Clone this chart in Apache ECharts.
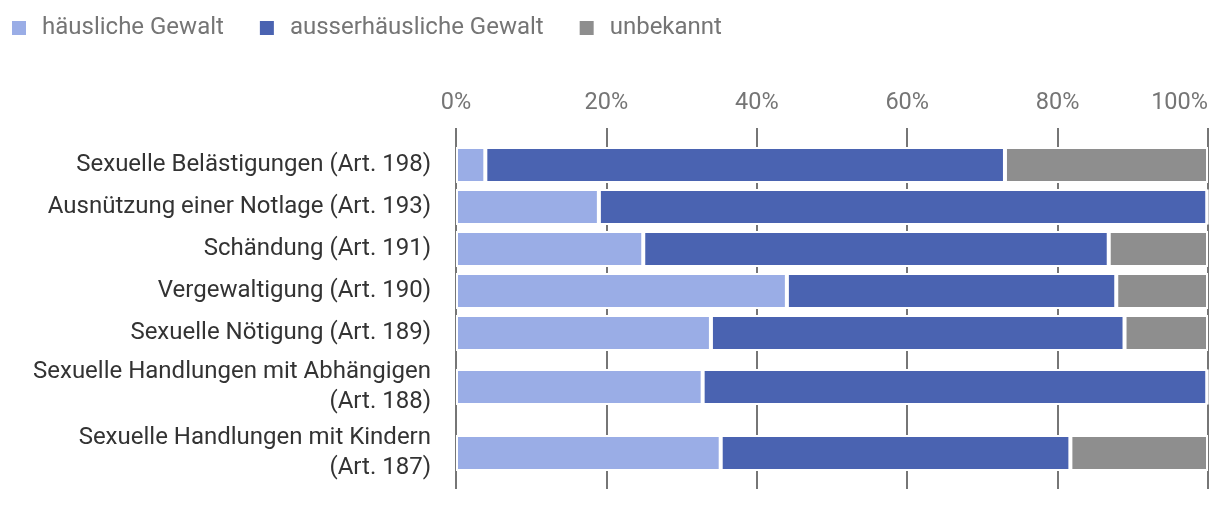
<!DOCTYPE html>
<html>
<head>
<meta charset="utf-8">
<script src="https://cdn.jsdelivr.net/npm/echarts@6/dist/echarts.min.js"></script>
<style>
html,body{margin:0;padding:0;background:#fff;}
#chart{width:1220px;height:512px;}
</style>
</head>
<body>
<div id="chart"></div>
<script>
// ---- data ----
const categories = [
  'Sexuelle Belästigungen (Art. 198)',
  'Ausnützung einer Notlage (Art. 193)',
  'Schändung (Art. 191)',
  'Vergewaltigung (Art. 190)',
  'Sexuelle Nötigung (Art. 189)',
  'Sexuelle Handlungen mit Abhängigen\n(Art. 188)',
  'Sexuelle Handlungen mit Kindern\n(Art. 187)'
];
const seriesNames = ['häusliche Gewalt', 'ausserhäusliche Gewalt', 'unbekannt'];
const haeuslich       = [3.9, 19.0, 24.9, 44.0, 33.9, 32.8, 35.2];
const ausserhaeuslich = [69.1, 80.9, 61.9, 43.8, 55.0, 67.1, 46.5];
const unbekannt       = [27.0, 0.1, 13.2, 12.2, 11.1, 0.1, 18.3];
const xTickMin = 0, xTickMax = 100, xTickStep = 20;

// ---- styling / layout ----
const colors = ['#9aade6', '#4a63b1', '#8e8e8e'];
const FONT = 'Roboto';
const values = [haeuslich, ausserhaeuslich, unbekannt];
const LEFT = 456, RIGHT = 12;
const BAR = 34, GAP = 8, LINE_H = 29, FIRST_TOP = 148;

const grids = [{left: LEFT, right: RIGHT, top: 128, bottom: 23}];
const xAxes = [{
  gridIndex: 0, type: 'value', position: 'top',
  min: xTickMin, max: xTickMax, interval: xTickStep,
  axisLine: {show: false}, axisTick: {show: false},
  axisLabel: {
    formatter: '{value}%', color: '#757575', fontSize: 23.5, fontFamily: FONT,
    margin: 13, alignMinLabel: 'center', alignMaxLabel: 'right'
  },
  splitLine: {show: true, lineStyle: {color: '#767676', width: 2}}
}];
const yAxes = [{gridIndex: 0, type: 'value', show: false}];
const series = [];

let slotTop = FIRST_TOP;
categories.forEach((cat, i) => {
  const lines = cat.split('\n').length;
  const slotH = Math.max(BAR, lines * LINE_H);
  const barTop = slotTop + (slotH - BAR) / 2;
  slotTop += slotH + GAP;
  const gi = i + 1;
  grids.push({left: LEFT, right: RIGHT, top: barTop - 1, height: BAR + 2});
  xAxes.push({gridIndex: gi, type: 'value', min: xTickMin, max: xTickMax, show: false});
  yAxes.push({
    gridIndex: gi, type: 'category', data: [cat],
    axisLine: {show: false}, axisTick: {show: false}, splitLine: {show: false},
    axisLabel: {color: '#333333', fontSize: 24, fontFamily: FONT, margin: 25, lineHeight: LINE_H + 1, align: 'right'}
  });
  seriesNames.forEach((name, s) => {
    series.push({
      type: 'bar', name: name, stack: 'row' + i,
      xAxisIndex: gi, yAxisIndex: gi,
      data: [values[s][i]],
      barWidth: BAR + 2,
      itemStyle: {color: colors[s], borderColor: '#ffffff', borderWidth: 2},
      emphasis: {disabled: true}
    });
  });
});

const chart = echarts.init(document.getElementById('chart'));
chart.setOption({
  animation: false,
  color: colors,
  textStyle: {fontFamily: FONT},
  legend: {
    data: seriesNames, left: 10, top: 16, padding: 0,
    icon: 'rect', itemWidth: 16, itemHeight: 16, itemGap: 34,
    textStyle: {color: '#757575', fontSize: 24, fontFamily: FONT, padding: [0, 0, 0, 10]}
  },
  grid: grids,
  xAxis: xAxes,
  yAxis: yAxes,
  series: series
});
</script>
</body>
</html>
